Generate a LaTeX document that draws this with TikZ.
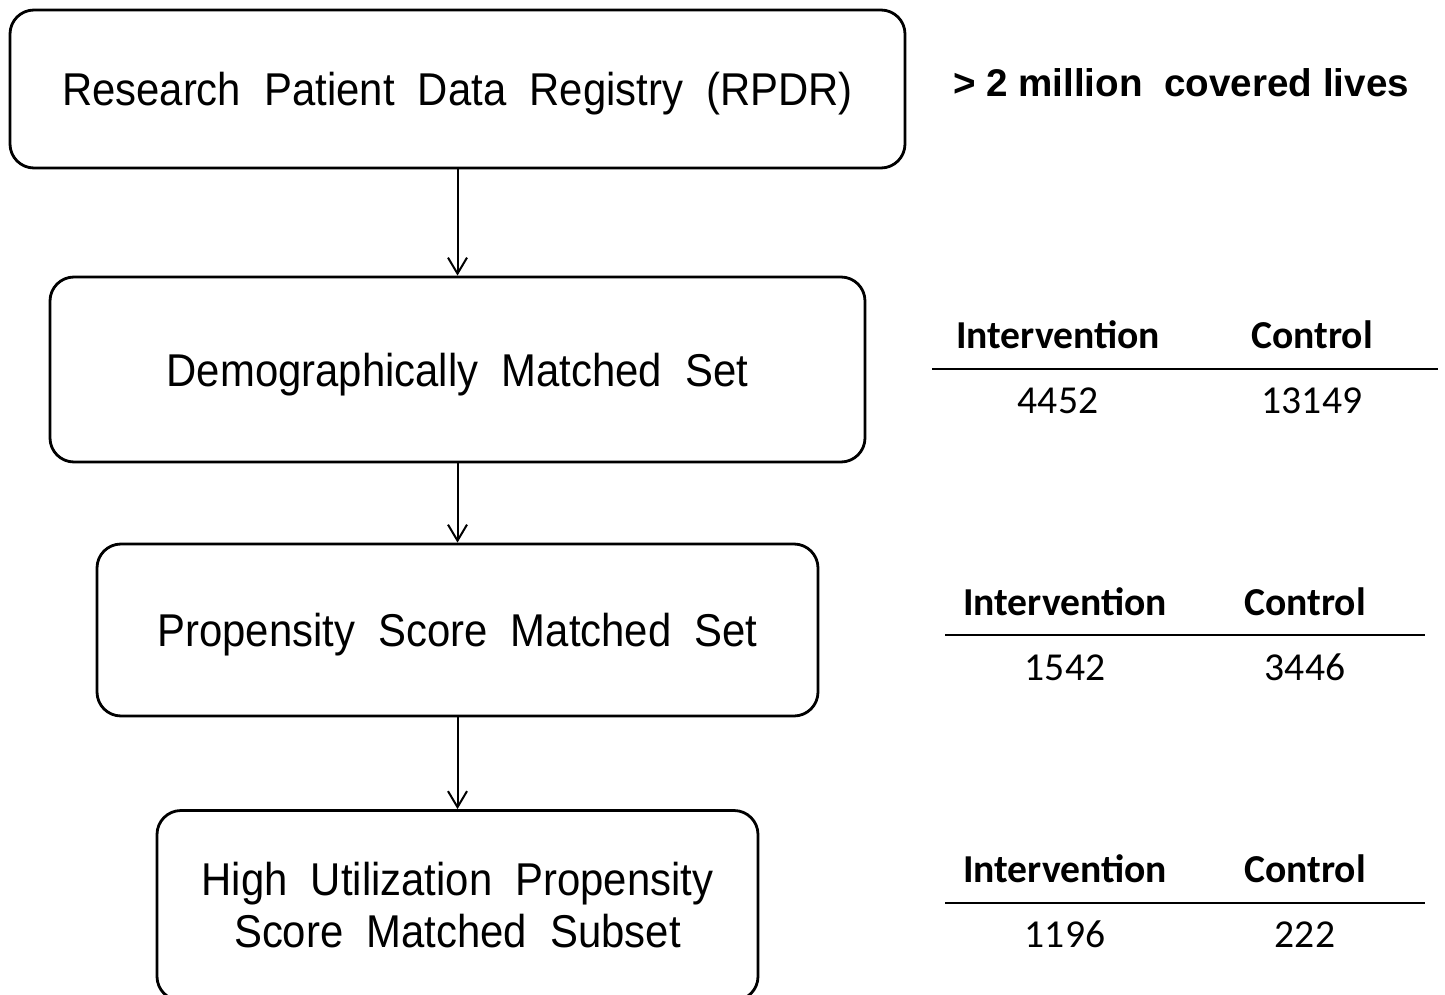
\documentclass[tikz,border=0pt]{standalone}
\usepackage{fontspec}
\setmainfont{Liberation Sans}
\newfontfamily\boxfont[FakeStretch=0.91]{Liberation Sans}
\newfontfamily\tabfont{Carlito}
\usetikzlibrary{arrows.meta}
\tikzset{
  stagebox/.style={draw, line width=1.4pt, rounded corners=12pt, align=center,
    font=\boxfont\fontsize{23}{26}\selectfont, inner sep=0pt},
  oneline/.style={text depth=0pt},
  flow/.style={line width=1pt, -{Straight Barb[length=8pt, width=9.5pt, line width=1pt]}},
  colhead/.style={font=\tabfont\bfseries\fontsize{19.8}{22}\selectfont, text height=12.7pt, text depth=0pt},
  colnum/.style={font=\tabfont\fontsize{19.8}{22}\selectfont, text height=12.5pt, text depth=0pt},
}
\begin{document}
\begin{tikzpicture}[x=0.5pt, y=-0.5pt]
    \useasboundingbox (0, 0) rectangle (1445, 995) ;
    \node[stagebox, oneline, minimum width=447.5pt, minimum height=79pt] (rpdr) at (457.5, 89) {Research\ \ Patient\ \ Data\ \ Registry\ \ (RPDR)} ;
    \node[stagebox, oneline, minimum width=407.5pt, minimum height=92.5pt] (demo) at (457.5, 369.5) {Demographically\ \ Matched\ \ Set} ;
    \node[stagebox, oneline, minimum width=360.5pt, minimum height=86pt] (psm) at (457.5, 630) {Propensity\ \ Score\ \ Matched\ \ Set} ;
    \node[stagebox, minimum width=300.5pt, minimum height=95pt] (high) at (457.5, 905.5) {High\ \ Utilization\ \ Propensity\\ Score\ \ Matched\ \ Subset} ;
    \draw[flow] (rpdr) -- (demo) ;
    \draw[flow] (demo) -- (psm) ;
    \draw[flow] (psm) -- (high) ;
%   right-hand counts
    \node[font=\rmfamily\bfseries\fontsize{19.3}{22}\selectfont, text depth=0pt] (lives) at (1181, 83) {> 2 million\ \ covered lives} ;
    \node[colhead] (demoint) at (1058, 336) {Intervention} ;
    \node[colhead] (democtl) at (1312, 336) {Control} ;
    \draw[line width=0.9pt] (932, 369) -- (1438, 369) ;
    \node[colnum] (demointn) at (1058, 401) {4452} ;
    \node[colnum] (democtln) at (1312, 401) {13149} ;
    \node[colhead] (psmint) at (1065, 603) {Intervention} ;
    \node[colhead] (psmctl) at (1305, 603) {Control} ;
    \draw[line width=0.9pt] (945, 635) -- (1425, 635) ;
    \node[colnum] (psmintn) at (1065, 668) {1542} ;
    \node[colnum] (psmctln) at (1305, 668) {3446} ;
    \node[colhead] (highint) at (1065, 870) {Intervention} ;
    \node[colhead] (highctl) at (1305, 870) {Control} ;
    \draw[line width=0.9pt] (945, 903) -- (1425, 903) ;
    \node[colnum] (highintn) at (1065, 935) {1196} ;
    \node[colnum] (highctln) at (1305, 935) {222} ;
\end{tikzpicture}
\end{document}
